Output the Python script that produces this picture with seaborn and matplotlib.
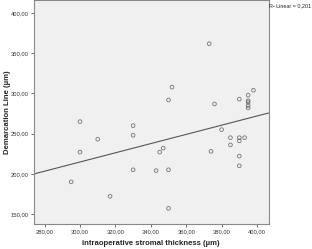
import matplotlib
matplotlib.use("Agg")
import matplotlib.pyplot as plt
import seaborn as sns
import pandas as pd

# Data
stromal_thickness = [295, 300, 300, 310, 317, 330, 330, 330, 343, 345, 347,
                     350, 350, 350, 352, 373, 374, 376, 380, 385, 385,
                     390, 390, 390, 390, 390, 393, 395, 395, 395, 395, 395, 398]
demarcation_line = [190, 265, 227, 243, 172, 260, 248, 205, 204, 227, 232,
                    205, 157, 292, 308, 362, 228, 287, 255, 245, 236,
                    293, 245, 241, 222, 210, 245, 298, 291, 289, 285, 282, 304]
x_ticks = [280, 300, 320, 340, 360, 380, 400]
y_ticks = [150, 200, 250, 300, 350, 400]
r2_linear = 0.201

df = pd.DataFrame({"x": stromal_thickness, "y": demarcation_line})

sns.set_theme(style="white")
plt.rcParams["font.family"] = ["Liberation Sans", "DejaVu Sans"]

fig = plt.figure(figsize=(3.12, 2.49), dpi=100)
ax = fig.add_axes([34 / 312, 25 / 249, (268.5 - 34) / 312, (249 - 0.5 - 25) / 249])
ax.set_facecolor("#f0f0f0")
ax.set_xlim(274, 406.5)
ax.set_ylim(137.5, 415.8)

sns.regplot(data=df, x="x", y="y", ax=ax, ci=None, truncate=False,
            scatter_kws=dict(s=7, facecolors="none", edgecolors="#555555", linewidths=0.6),
            line_kws=dict(color="#555555", linewidth=0.8))
ax.set_xlim(274, 406.5)
ax.set_ylim(137.5, 415.8)

ax.set_xticks(x_ticks)
ax.set_yticks(y_ticks)
ax.set_xticklabels([f"{v:.2f}".replace(".", ",") for v in x_ticks], fontsize=4.2, color="#333333")
ax.set_yticklabels([f"{v:.2f}".replace(".", ",") for v in y_ticks], fontsize=4.2, color="#333333")
ax.tick_params(axis="both", direction="out", length=2.5, width=0.6, color="#555555", pad=1.5,
               bottom=True, left=True)
for sp in ax.spines.values():
    sp.set_color("#888888")
    sp.set_linewidth(0.8)

ax.set_xlabel("intraoperative stromal thickness (µm)", fontsize=5.6, fontweight="bold", labelpad=4)
ax.set_ylabel("Demarcation Line (µm)", fontsize=5.6, fontweight="bold")
ax.yaxis.set_label_coords(-23 / 234.5, 0.5)

fig.text(269 / 312, 1 - 6 / 249, f"R² Linear = {r2_linear:.3f}".replace(".", ","), fontsize=3.9,
         ha="left", va="center", color="#222222")

fig.savefig("out.png", dpi=100)
